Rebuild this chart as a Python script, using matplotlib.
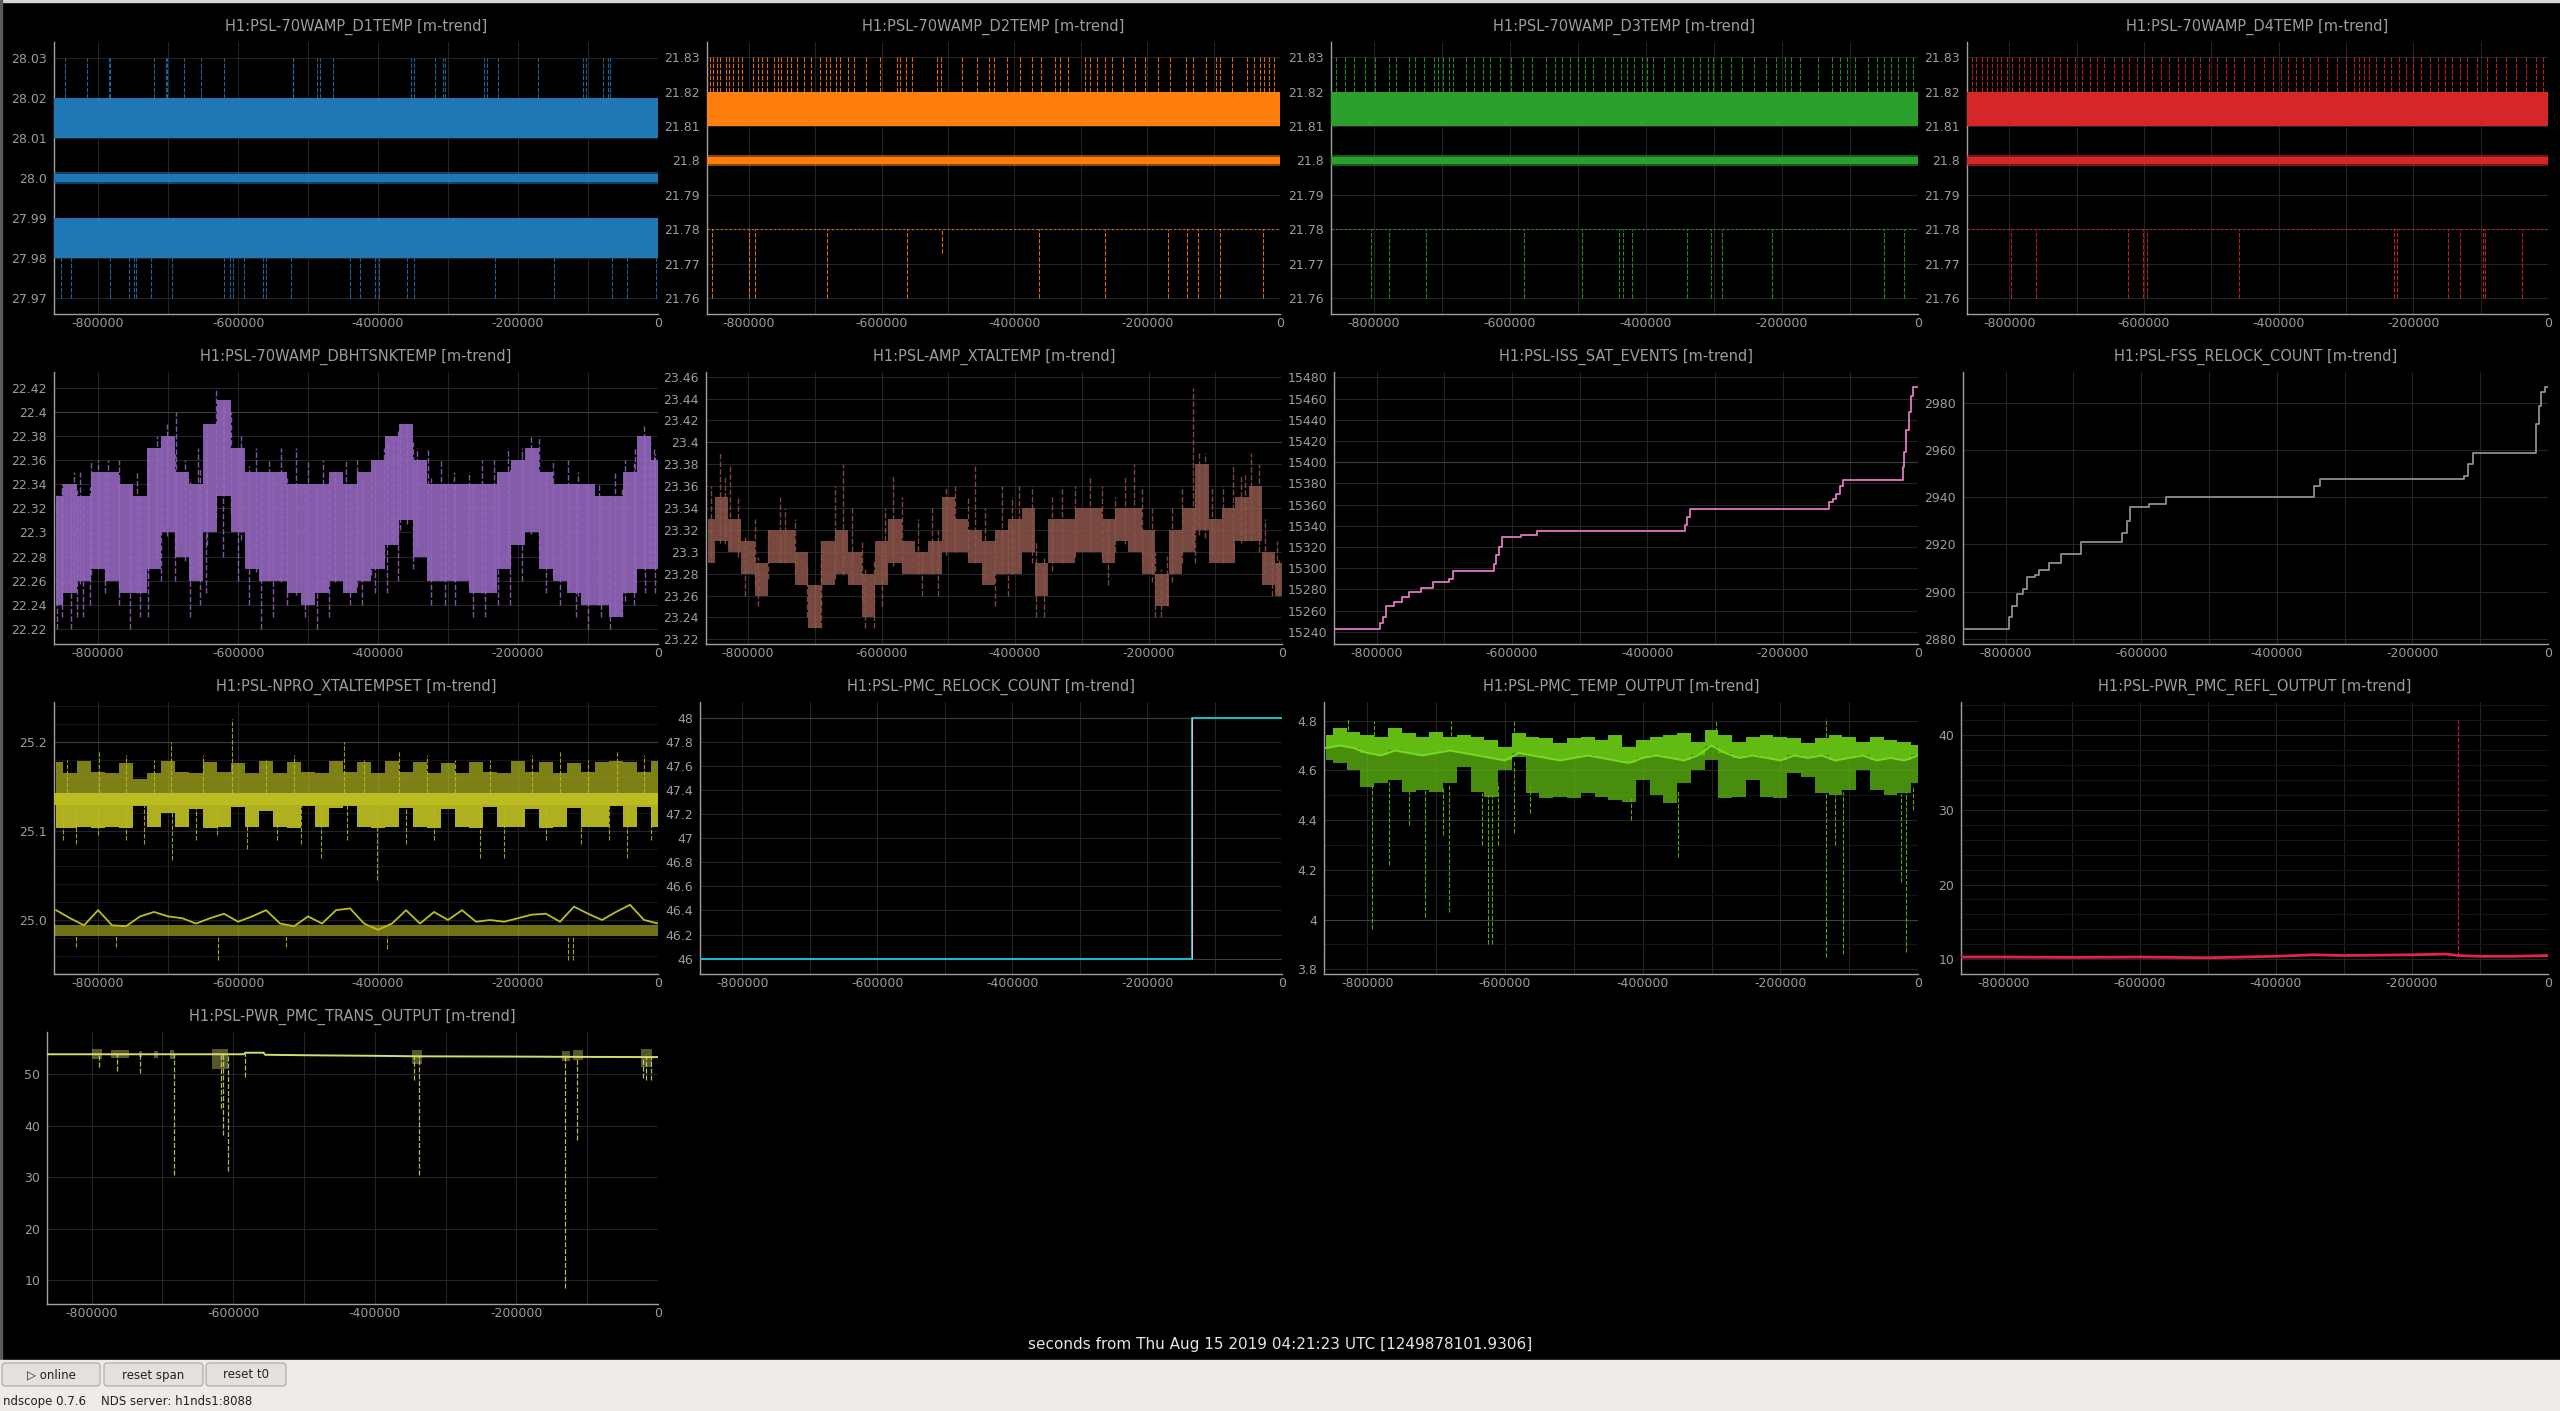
#!/usr/bin/env python3
"""
ndscope-style m-trend overview of 13 PSL channels (about 10 days of minute trends).
"""

import numpy as np
import matplotlib
matplotlib.use("Agg")
import matplotlib.pyplot as plt
from matplotlib.patches import Rectangle, FancyBboxPatch

W, H = 2560, 1411
DPI = 100

BG = "#000000"
TEXT_GRAY = "#9c9c9c"
AXIS_GRAY = "#a0a0a0"
GRID = "#242424"
GRID_BRIGHT = "#3e3e3e"
GRID_MINOR = "#151515"
DASH = (0, (4.0, 1.5))

KS = 1000.0
XLIM = (-863000, 0)
T_SPAN = [-863000, 0]
XTICKS = [-800000, -600000, -400000, -200000, 0]
XTICK_LABELS = ["-800000", "-600000", "-400000", "-200000", "0"]
XMINOR = [-700000, -500000, -300000, -100000]

# sample times (ks) used when reading the envelopes off the screen
T_KS = [-860, -840, -820, -800, -780, -760, -740, -720, -700, -680,
        -660, -640, -620, -600, -580, -560, -540, -520, -500, -480,
        -460, -440, -420, -400, -380, -360, -340, -320, -300, -280,
        -260, -240, -220, -200, -180, -160, -140, -120, -100, -80,
        -60, -40, -20, 0]

# ---------------------------------------------------------------- D1..D4 TEMP
P1_MAX_BAND = (28.01, 28.02)
P1_MIN_BAND = (27.98, 27.99)
P1_MEAN_RANGE = (27.9984, 28.0016)
P1_MEAN_CORE = (27.9991, 28.0009)
P1_SPIKE_TOP = 28.03
P1_SPIKE_BOTTOM = 27.97
P1_UP_KS = [-847, -816, -785, -783, -720, -703, -701, -677, -653, -620, -522, -521,
            -487, -483, -465, -353, -349, -319, -307, -305, -249, -245, -228, -172,
            -107, -103, -78, -71, -68]
P1_DOWN_KS = [-853, -839, -783, -756, -748, -746, -725, -695, -620, -611, -607, -591,
              -565, -560, -525, -440, -426, -405, -398, -358, -348, -233, -149, -66,
              -44, -3]

D_MAX_BAND = (21.81, 21.82)
D_MIN_LEVEL = 21.78
D_MEAN_RANGE = (21.7984, 21.8016)
D_MEAN_CORE = (21.7990, 21.8009)
D_SPIKE_TOP = 21.83
D_SPIKE_BOTTOM = 21.76

P2_UP_KS = [-858, -854, -848, -843, -835, -830, -824, -817, -810, -793, -786, -780,
            -773, -762, -756, -751, -743, -736, -728, -717, -706, -693, -684, -677,
            -669, -662, -651, -642, -623, -603, -577, -572, -564, -555, -516, -511,
            -479, -456, -439, -430, -411, -391, -373, -360, -339, -332, -319, -293,
            -286, -275, -264, -253, -236, -218, -203, -184, -166, -142, -131, -111,
            -96, -90, -72, -50, -39, -30, -24, -17, -9]
P2_DOWN_KS = [-856, -799, -791, -682, -562, -363, -264, -168, -140, -124, -90, -26]
P2_SHORT_KS = [-509]
P2_SHORT_BOTTOM = 21.773

P3_UP_KS = [-856, -843, -829, -813, -798, -777, -768, -748, -739, -726, -712, -705,
            -698, -690, -683, -665, -653, -640, -629, -615, -599, -581, -568, -547,
            -534, -523, -512, -500, -489, -478, -460, -448, -437, -428, -417, -406,
            -399, -390, -374, -358, -345, -331, -320, -309, -302, -289, -275, -259,
            -241, -223, -209, -196, -187, -173, -147, -126, -115, -104, -92, -74,
            -61, -50, -40, -29, -18, -7]
P3_DOWN_KS = [-804, -778, -724, -579, -494, -440, -433, -420, -340, -304, -288, -214,
              -50, -20]

P4_UP_KS = [-856, -849, -841, -834, -826, -819, -812, -803, -796, -786, -779, -770,
            -761, -752, -743, -734, -725, -714, -703, -692, -681, -670, -659, -645,
            -633, -622, -611, -600, -588, -575, -563, -550, -539, -528, -517, -504,
            -492, -479, -466, -452, -437, -422, -408, -397, -386, -375, -364, -353,
            -342, -328, -313, -300, -288, -280, -273, -266, -255, -244, -233, -222,
            -211, -200, -188, -175, -164, -153, -142, -131, -120, -106, -91, -77,
            -62, -47, -33, -18, -7]
P4_DOWN_KS = [-797, -761, -624, -601, -595, -459, -229, -224, -149, -131, -97, -93, -38]

# ---------------------------------------------------------------- DBHTSNKTEMP
P5_MAX = [22.33, 22.34, 22.33, 22.35, 22.35, 22.34, 22.33, 22.37, 22.38, 22.35,
          22.34, 22.39, 22.41, 22.37, 22.35, 22.35, 22.35, 22.34, 22.34, 22.34,
          22.35, 22.34, 22.35, 22.36, 22.38, 22.39, 22.36, 22.34, 22.34, 22.34,
          22.34, 22.34, 22.35, 22.36, 22.37, 22.35, 22.34, 22.34, 22.34, 22.33,
          22.33, 22.35, 22.38, 22.36]
P5_MIN = [22.24, 22.25, 22.26, 22.27, 22.26, 22.25, 22.25, 22.27, 22.30, 22.28,
          22.26, 22.30, 22.33, 22.30, 22.27, 22.26, 22.26, 22.25, 22.24, 22.25,
          22.26, 22.25, 22.26, 22.27, 22.29, 22.31, 22.28, 22.26, 22.26, 22.26,
          22.25, 22.25, 22.27, 22.29, 22.30, 22.27, 22.26, 22.25, 22.24, 22.24,
          22.23, 22.25, 22.27, 22.27]
P5_UP_KS = [-834, -810, -716, -689, -657, -632, -610, -575, -517, -479, -446, -378,
            -358, -329, -291, -235, -194, -170, -129, -103, -47, -20, -6,
            -852, -826, -800, -786, -770, -745, -728, -702, -676, -645, -620, -596,
            -556, -538, -500, -462, -430, -410, -392, -368, -345, -310, -270, -252,
            -215, -182, -150, -115, -85, -62, -33, -12]
P5_UP_TOP = [22.35, 22.36, 22.38, 22.40, 22.37, 22.42, 22.40, 22.37, 22.37, 22.36,
             22.36, 22.38, 22.39, 22.37, 22.35, 22.36, 22.37, 22.38, 22.36, 22.34,
             22.36, 22.39, 22.37,
             22.34, 22.35, 22.36, 22.36, 22.36, 22.35, 22.37, 22.39, 22.36, 22.39,
             22.41, 22.38, 22.36, 22.37, 22.36, 22.35, 22.36, 22.35, 22.37, 22.39,
             22.37, 22.36, 22.35, 22.36, 22.37, 22.38, 22.36, 22.35, 22.34, 22.35,
             22.37, 22.38]
P5_DOWN_KS = [-851, -839, -822, -754, -728, -669, -646, -567, -487, -423, -387, -305,
              -247, -211, -117, -69, -35,
              -858, -830, -812, -790, -770, -740, -710, -690, -655, -622, -600, -585,
              -550, -530, -505, -470, -440, -405, -372, -350, -325, -290, -265, -228,
              -195, -160, -140, -100, -82, -52, -18, -5]
P5_DOWN_BOT = [22.23, 22.22, 22.23, 22.22, 22.23, 22.23, 22.25, 22.22, 22.22, 22.24,
               22.25, 22.24, 22.23, 22.24, 22.23, 22.22, 22.24,
               22.22, 22.23, 22.24, 22.25, 22.24, 22.23, 22.26, 22.26, 22.24, 22.28,
               22.26, 22.24, 22.23, 22.24, 22.23, 22.23, 22.24, 22.25, 22.26, 22.27,
               22.24, 22.24, 22.23, 22.24, 22.26, 22.25, 22.24, 22.22, 22.23, 22.23,
               22.25, 22.25]

# ---------------------------------------------------------------- AMP_XTALTEMP
P6_MIN = [23.29, 23.31, 23.30, 23.28, 23.26, 23.29, 23.29, 23.27, 23.23, 23.27,
          23.28, 23.27, 23.24, 23.27, 23.29, 23.28, 23.28, 23.28, 23.30, 23.30,
          23.29, 23.27, 23.28, 23.28, 23.30, 23.26, 23.29, 23.29, 23.30, 23.30,
          23.29, 23.31, 23.30, 23.28, 23.25, 23.28, 23.30, 23.32, 23.29, 23.29,
          23.31, 23.31, 23.27, 23.26]
P6_MAX = [23.33, 23.35, 23.33, 23.31, 23.29, 23.32, 23.32, 23.30, 23.27, 23.31,
          23.32, 23.30, 23.28, 23.31, 23.33, 23.31, 23.30, 23.31, 23.35, 23.33,
          23.32, 23.31, 23.32, 23.33, 23.34, 23.29, 23.33, 23.33, 23.34, 23.34,
          23.33, 23.34, 23.34, 23.32, 23.28, 23.32, 23.34, 23.38, 23.33, 23.34,
          23.35, 23.36, 23.30, 23.29]
P6_UP_KS = [-842, -827, -752, -657, -583, -503, -460, -394, -287, -222, -133, -125,
            -74, -47, -35,
            -855, -835, -815, -790, -770, -745, -730, -690, -670, -645, -630, -595,
            -570, -545, -525, -490, -470, -445, -420, -405, -375, -345, -330, -310,
            -270, -250, -235, -210, -195, -165, -150, -115, -105, -88, -62, -55,
            -25, -8]
P6_UP_TOP = [23.39, 23.38, 23.35, 23.38, 23.37, 23.36, 23.38, 23.36, 23.37, 23.38,
             23.45, 23.39, 23.38, 23.39, 23.38,
             23.36, 23.37, 23.35, 23.33, 23.32, 23.34, 23.33, 23.31, 23.36, 23.34,
             23.31, 23.34, 23.35, 23.33, 23.34, 23.36, 23.35, 23.34, 23.36, 23.35,
             23.36, 23.35, 23.36, 23.36, 23.36, 23.35, 23.37, 23.36, 23.34, 23.34,
             23.36, 23.39, 23.36, 23.36, 23.37, 23.37, 23.33, 23.31]
P6_DOWN_KS = [-700, -611, -357, -182,
              -805, -785, -712, -690, -625, -600, -540, -515, -430, -410, -368, -260,
              -190, -172, -130, -15, -5]
P6_DOWN_BOT = [23.23, 23.23, 23.24, 23.24,
               23.26, 23.25, 23.24, 23.23, 23.23, 23.25, 23.26, 23.26, 23.25, 23.26,
               23.24, 23.27, 23.24, 23.25, 23.29, 23.26, 23.26]

# ---------------------------------------------------------------- counters
P7_X_KS = [-863, -798, -795, -790, -786, -774, -762, -752, -735, -717,
           -693, -687, -631, -627, -623, -619, -615, -587, -563, -348,
           -345, -342, -337, -135, -131, -126, -121, -116, -111, -24,
           -22, -20, -17, -14, -11, -8, 0]
P7_Y = [15243, 15243, 15248, 15254, 15264, 15268, 15273, 15277, 15281, 15287,
        15290, 15297, 15297, 15304, 15312, 15320, 15329, 15331, 15335, 15335,
        15341, 15348, 15356, 15356, 15362, 15365, 15370, 15377, 15383, 15383,
        15395, 15410, 15430, 15447, 15462, 15471, 15471]

P8_X_KS = [-863, -799, -795, -790, -783, -775, -768, -757, -751, -736,
           -718, -689, -633, -628, -621, -616, -588, -564, -348, -345,
           -337, -131, -124, -118, -110, -22, -18, -14, -10, -5, 0]
P8_Y = [2884, 2884, 2889, 2894, 2899, 2901, 2906, 2907, 2909, 2912,
        2916, 2921, 2921, 2925, 2930, 2936, 2937, 2940, 2940, 2945,
        2948, 2948, 2949, 2954, 2959, 2959, 2971, 2979, 2985, 2987, 2987]

# ---------------------------------------------------------------- NPRO_XTALTEMPSET
P9_MAX_TOP = [25.177, 25.165, 25.178, 25.166, 25.165, 25.176, 25.158, 25.165, 25.178, 25.166,
              25.165, 25.177, 25.166, 25.176, 25.165, 25.178, 25.165, 25.177, 25.166, 25.165,
              25.178, 25.166, 25.177, 25.165, 25.178, 25.166, 25.177, 25.165, 25.176, 25.165,
              25.177, 25.166, 25.165, 25.178, 25.166, 25.177, 25.165, 25.176, 25.166, 25.177,
              25.178, 25.177, 25.166, 25.178]
P9_MAX_BOT = [25.103, 25.103, 25.104, 25.103, 25.104, 25.103, 25.128, 25.104, 25.120, 25.104,
              25.125, 25.103, 25.104, 25.127, 25.104, 25.122, 25.104, 25.103, 25.128, 25.104,
              25.126, 25.128, 25.104, 25.103, 25.104, 25.126, 25.104, 25.103, 25.125, 25.104,
              25.103, 25.127, 25.104, 25.104, 25.125, 25.103, 25.104, 25.126, 25.104, 25.104,
              25.128, 25.104, 25.127, 25.104]
P9_CORE = (25.129, 25.142)
P9_MEAN = [25.011, 25.002, 24.994, 25.011, 24.994, 24.993, 25.004, 25.009, 25.004, 25.002,
           24.996, 25.002, 25.007, 24.998, 25.004, 25.011, 24.996, 24.993, 25.004, 24.996,
           25.011, 25.013, 24.996, 24.989, 24.996, 25.011, 24.996, 25.009, 25.000, 25.011,
           24.998, 25.000, 24.998, 25.002, 25.006, 25.007, 24.998, 25.015, 25.007, 25.000,
           25.009, 25.017, 25.000, 24.996]
P9_MIN_BAND = (24.982, 24.994)
P9_UP_KS = [-798, -696, -608, -448, -370, -59, -845, -760, -720, -650, -560, -520,
            -420, -330, -290, -240, -180, -140, -100, -20]
P9_UP_TOP = [25.19, 25.20, 25.225, 25.20, 25.19, 25.19, 25.18, 25.185, 25.18, 25.185,
             25.18, 25.185, 25.18, 25.185, 25.18, 25.18, 25.185, 25.19, 25.18, 25.185]
P9_DOWN_KS = [-831, -695, -587, -481, -401, -255, -220, -45, -850, -800, -760, -735,
              -660, -630, -545, -510, -445, -360, -320, -160, -110, -70, -10]
P9_DOWN_BOT = [25.085, 25.067, 25.08, 25.07, 25.045, 25.07, 25.07, 25.07, 25.09, 25.095,
               25.09, 25.085, 25.09, 25.095, 25.09, 25.085, 25.09, 25.085, 25.09, 25.09,
               25.085, 25.09, 25.09]
P9_DIP_KS = [-831, -775, -628, -531, -387, -129, -121]
P9_DIP_BOT = [24.97, 24.97, 24.955, 24.97, 24.968, 24.955, 24.955]

P10_X_KS = [-863, -133, 0]
P10_Y = [46, 48, 48]

# ---------------------------------------------------------------- PMC_TEMP_OUTPUT
P11_TOP = [4.742, 4.769, 4.756, 4.742, 4.736, 4.769, 4.749, 4.736, 4.756, 4.736,
           4.742, 4.736, 4.722, 4.695, 4.749, 4.736, 4.729, 4.709, 4.729, 4.736,
           4.722, 4.742, 4.695, 4.722, 4.736, 4.742, 4.749, 4.716, 4.762, 4.742,
           4.716, 4.736, 4.742, 4.736, 4.729, 4.709, 4.729, 4.742, 4.736, 4.716,
           4.736, 4.722, 4.716, 4.702]
P11_BOTTOM = [4.642, 4.628, 4.602, 4.535, 4.548, 4.561, 4.514, 4.521, 4.514, 4.548,
              4.615, 4.514, 4.494, 4.602, 4.655, 4.508, 4.488, 4.494, 4.488, 4.508,
              4.494, 4.481, 4.474, 4.561, 4.501, 4.468, 4.548, 4.602, 4.642, 4.488,
              4.494, 4.561, 4.494, 4.488, 4.588, 4.575, 4.508, 4.501, 4.521, 4.602,
              4.521, 4.501, 4.508, 4.548]
P11_MEAN = [4.69, 4.70, 4.69, 4.67, 4.66, 4.68, 4.67, 4.66, 4.67, 4.68,
            4.67, 4.66, 4.65, 4.64, 4.67, 4.66, 4.65, 4.64, 4.65, 4.66,
            4.65, 4.64, 4.63, 4.65, 4.66, 4.65, 4.64, 4.66, 4.70, 4.67,
            4.65, 4.66, 4.65, 4.64, 4.66, 4.65, 4.66, 4.64, 4.65, 4.66,
            4.64, 4.65, 4.64, 4.66]
P11_DOWN_KS = [-793, -769, -740, -716, -690, -681, -634, -625, -619, -610, -587, -564,
               -417, -348, -133, -121, -109, -24, -17, -7]
P11_DOWN_BOT = [3.96, 4.22, 4.38, 4.01, 4.34, 4.03, 4.30, 3.90, 3.90, 4.30, 4.35, 4.43,
                4.40, 4.25, 3.85, 4.30, 3.86, 4.15, 3.87, 4.44]
P11_UP_KS = [-828, -790, -678, -587, -293, -133]
P11_UP_TOP = [4.81, 4.80, 4.80, 4.80, 4.80, 4.81]

# ---------------------------------------------------------------- PMC REFL / TRANS
P12_X_KS = [-863, -800, -700, -600, -500, -400, -345, -300, -200, -150, -132, -100, -50, 0]
P12_Y = [10.3, 10.3, 10.25, 10.3, 10.2, 10.4, 10.6, 10.5, 10.6, 10.7, 10.5, 10.4, 10.4, 10.5]
P12_SPIKE_KS = [-132]
P12_SPIKE_TOP = [42.2]

P13_X_KS = [-863, -585, -583, -557, -555, -490, -400, -340, -200, -130, 0]
P13_Y = [53.9, 53.9, 54.2, 54.2, 53.8, 53.7, 53.6, 53.5, 53.45, 53.4, 53.35]
P13_CLUSTER_START_KS = [-800, -772, -733, -712, -689, -630, -347, -135, -120, -24]
P13_CLUSTER_END_KS = [-785, -747, -729, -706, -683, -608, -334, -125, -106, -9]
P13_CLUSTER_LO = [53.0, 53.2, 53.3, 53.2, 53.0, 51.0, 52.0, 52.5, 52.8, 51.5]
P13_CLUSTER_HI = [54.9, 54.8, 54.5, 54.6, 54.8, 54.9, 54.7, 54.6, 54.8, 54.9]
P13_DIP_KS = [-790, -764, -731, -684, -617, -614, -608, -583, -344, -338, -132, -114,
              -21, -17, -10]
P13_DIP_BOT = [51.4, 50.6, 50.2, 30.4, 43.4, 38.2, 31.1, 49.5, 48.9, 30.4, 8.4, 37.2,
               49.2, 48.9, 48.9]


def ks(values):
    return np.asarray(values, dtype=float) * KS


def ticks(start, stop, step, fmt):
    vals = [round(start + i * step, 6) for i in range(int(round((stop - start) / step)) + 1)]
    return vals, [fmt(v) for v in vals]


def g(v):
    s = f"{v:.2f}".rstrip("0")
    if s.endswith("."):
        s += "0"
    return s


def gi(v):
    s = f"{v:.1f}"
    return s[:-2] if s.endswith(".0") else s


def px_axes(fig, x0, x1, y0, y1):
    return fig.add_axes([x0 / W, 1 - y1 / H, (x1 - x0) / W, (y1 - y0) / H])


def style_axes(ax, title, ylim, yvals, ylabels, bright=(), minor=()):
    ax.set_facecolor(BG)
    ax.set_xlim(*XLIM)
    ax.set_ylim(*ylim)
    for side in ("top", "right"):
        ax.spines[side].set_visible(False)
    for side in ("left", "bottom"):
        ax.spines[side].set_color(AXIS_GRAY)
        ax.spines[side].set_linewidth(1.0)
    ax.set_xticks(XTICKS, XTICK_LABELS)
    ax.set_yticks(yvals, ylabels)
    ax.tick_params(length=0, colors=TEXT_GRAY, labelsize=9)
    ax.tick_params(axis="y", pad=5)
    ax.tick_params(axis="x", pad=2)
    for x in XTICKS + XMINOR:
        ax.axvline(x, color=GRID, lw=0.8, zorder=0)
    for y in minor:
        ax.axhline(y, color=GRID_MINOR, lw=0.8, zorder=0)
    for y in yvals:
        ax.axhline(y, color=GRID_BRIGHT if y in bright else GRID, lw=0.8, zorder=0)
    ax.annotate(title, xy=(0.5, 1.0), xycoords="axes fraction", xytext=(0, 11),
                textcoords="offset points", ha="center", va="center",
                color=TEXT_GRAY, fontsize=10.5)


def spikes(ax, x_ks, lo, hi, color, lw=0.8, alpha=0.85):
    ax.vlines(ks(x_ks), lo, hi, colors=color, linestyles=DASH, lw=lw, alpha=alpha, zorder=2)


def draw_quantized(ax, color, max_band, mean_range, mean_core, up_ks, up_top,
                   down_ks, down_bottom, min_band=None, min_level=None):
    ax.fill_between(T_SPAN, *max_band, color=color, lw=0, zorder=3)
    if min_band is not None:
        ax.fill_between(T_SPAN, *min_band, color=color, lw=0, zorder=3)
        base = min_band[0]
    else:
        ax.hlines(min_level, *T_SPAN, colors=color, linestyles=(0, (2, 2)), lw=0.8, alpha=0.8)
        base = min_level
    ax.fill_between(T_SPAN, *mean_range, color=color, lw=0, alpha=0.55, zorder=3)
    ax.fill_between(T_SPAN, *mean_core, color=color, lw=0, zorder=3)
    spikes(ax, up_ks, max_band[1], up_top, color)
    spikes(ax, down_ks, down_bottom, base, color)


def main():
    plt.rcParams["font.family"] = ["DejaVu Sans"]
    fig = plt.figure(figsize=(W / DPI, H / DPI), dpi=DPI, facecolor=BG)

    # window chrome, drawn in pixel coordinates
    ov = fig.add_axes([0, 0, 1, 1])
    ov.set_xlim(0, W)
    ov.set_ylim(H, 0)
    ov.axis("off")
    ov.add_patch(Rectangle((0, 0), W, 2, color="#d6d6d6"))
    ov.add_patch(Rectangle((0, 0), 1.5, 1360, color="#5a5a5a"))
    ov.add_patch(Rectangle((0, 1360), W, 51, color="#efece8"))
    for x0, x1, label in [(2, 100, "\u25b7 online"), (104, 203, "reset span"), (206, 286, "reset t0")]:
        ov.add_patch(FancyBboxPatch((x0, 1363), x1 - x0, 23,
                                    boxstyle="round,pad=0,rounding_size=3",
                                    fc="#e4e1dd", ec="#a9a7a4", lw=0.8))
        ov.text((x0 + x1) / 2, 1375, label, ha="center", va="center",
                fontsize=8.5, color="#202020")
    ov.text(3, 1401, "ndscope 0.7.6    NDS server: h1nds1:8088", ha="left", va="center",
            fontsize=8.5, color="#202020")
    ov.text(1280, 1345, "seconds from Thu Aug 15 2019 04:21:23 UTC [1249878101.9306]",
            ha="center", va="center", fontsize=11, color="#e4e4e4")

    t = ks(T_KS)

    # row 1 -----------------------------------------------------------
    ax = px_axes(fig, 54, 658, 42, 314)
    yv, yl = ticks(27.97, 28.03, 0.01, g)
    style_axes(ax, "H1:PSL-70WAMP_D1TEMP [m-trend]", (27.966, 28.034), yv, yl)
    draw_quantized(ax, "#1f77b4", P1_MAX_BAND, P1_MEAN_RANGE, P1_MEAN_CORE,
                   P1_UP_KS, P1_SPIKE_TOP, P1_DOWN_KS, P1_SPIKE_BOTTOM, min_band=P1_MIN_BAND)

    yv, yl = ticks(21.76, 21.83, 0.01, g)
    for (x0, x1), name, color, up, down in [
            ((707, 1280), "D2TEMP", "#ff7f0e", P2_UP_KS, P2_DOWN_KS),
            ((1331, 1918), "D3TEMP", "#2ca02c", P3_UP_KS, P3_DOWN_KS),
            ((1967, 2548), "D4TEMP", "#d62728", P4_UP_KS, P4_DOWN_KS)]:
        ax = px_axes(fig, x0, x1, 42, 314)
        style_axes(ax, f"H1:PSL-70WAMP_{name} [m-trend]", (21.7554, 21.8344), yv, yl)
        draw_quantized(ax, color, D_MAX_BAND, D_MEAN_RANGE, D_MEAN_CORE,
                       up, D_SPIKE_TOP, down, D_SPIKE_BOTTOM, min_level=D_MIN_LEVEL)
        if name == "D2TEMP":
            spikes(ax, P2_SHORT_KS, P2_SHORT_BOTTOM, D_MIN_LEVEL, color)

    # row 2 -----------------------------------------------------------
    c = "#9467bd"
    ax = px_axes(fig, 54, 658, 372, 644)
    yv, yl = ticks(22.22, 22.42, 0.02, g)
    style_axes(ax, "H1:PSL-70WAMP_DBHTSNKTEMP [m-trend]", (22.2076, 22.433), yv, yl,
               bright=(22.4,))
    spikes(ax, P5_UP_KS, np.interp(ks(P5_UP_KS), t, P5_MIN), P5_UP_TOP, c, lw=1.0)
    spikes(ax, P5_DOWN_KS, P5_DOWN_BOT, np.interp(ks(P5_DOWN_KS), t, P5_MAX), c, lw=1.0)
    ax.fill_between(t, P5_MIN, P5_MAX, step="mid", color=c, lw=0, alpha=0.9, zorder=3)

    c = "#8c564b"
    ax = px_axes(fig, 706, 1282, 372, 644)
    yv, yl = ticks(23.22, 23.46, 0.02, g)
    style_axes(ax, "H1:PSL-AMP_XTALTEMP [m-trend]", (23.2157, 23.4643), yv, yl,
               bright=(23.4,))
    spikes(ax, P6_UP_KS, np.interp(ks(P6_UP_KS), t, P6_MIN), P6_UP_TOP, c, lw=1.0)
    spikes(ax, P6_DOWN_KS, P6_DOWN_BOT, np.interp(ks(P6_DOWN_KS), t, P6_MAX), c, lw=1.0)
    ax.fill_between(t, P6_MIN, P6_MAX, step="mid", color=c, lw=0, alpha=0.85, zorder=3)

    ax = px_axes(fig, 1334, 1918, 372, 644)
    yv, yl = ticks(15240, 15480, 20, gi)
    style_axes(ax, "H1:PSL-ISS_SAT_EVENTS [m-trend]", (15228.4, 15485.0), yv, yl,
               bright=(15400,))
    ax.plot(ks(P7_X_KS), P7_Y, drawstyle="steps-post", color="#e377c2", lw=1.3, zorder=3)

    ax = px_axes(fig, 1963, 2548, 372, 644)
    yv, yl = ticks(2880, 2980, 20, gi)
    style_axes(ax, "H1:PSL-FSS_RELOCK_COUNT [m-trend]", (2877.7, 2993.3), yv, yl)
    ax.plot(ks(P8_X_KS), P8_Y, drawstyle="steps-post", color="#8e8e8e", lw=1.3, zorder=3)

    # row 3 -----------------------------------------------------------
    c = "#bcbd22"
    ax = px_axes(fig, 54, 658, 702, 974)
    minor9 = [round(24.94 + 0.02 * i, 2) for i in range(16)]
    style_axes(ax, "H1:PSL-NPRO_XTALTEMPSET [m-trend]", (24.9394, 25.2445),
               [25.0, 25.1, 25.2], ["25.0", "25.1", "25.2"], bright=(25.2,), minor=minor9)
    spikes(ax, P9_UP_KS, P9_CORE[1], P9_UP_TOP, c)
    spikes(ax, P9_DOWN_KS, P9_DOWN_BOT, P9_CORE[0], c)
    spikes(ax, P9_DIP_KS, P9_DIP_BOT, P9_MIN_BAND[0], c)
    ax.fill_between(t, P9_MAX_BOT, P9_MAX_TOP, step="mid", color=c, lw=0, alpha=0.68, zorder=3)
    ax.fill_between(t, P9_MAX_BOT, P9_CORE[1], step="mid", color=c, lw=0, alpha=0.8, zorder=3)
    ax.fill_between(T_SPAN, *P9_CORE, color=c, lw=0, alpha=0.95, zorder=3)
    ax.fill_between(T_SPAN, *P9_MIN_BAND, color=c, lw=0, alpha=0.6, zorder=3)
    ax.plot(t, P9_MEAN, color=c, lw=1.3, zorder=4)

    ax = px_axes(fig, 700, 1282, 702, 974)
    yv, yl = ticks(46.0, 48.0, 0.2, gi)
    style_axes(ax, "H1:PSL-PMC_RELOCK_COUNT [m-trend]", (45.873, 48.13), yv, yl,
               bright=(46.0, 48.0))
    ax.plot(ks(P10_X_KS), P10_Y, drawstyle="steps-post", color="#17becf", lw=1.4, zorder=3)
    ax.vlines(ks(P10_X_KS[1]), P10_Y[0], P10_Y[1], colors="#c8c8c8", lw=0.8, zorder=4)

    c = "#66c414"
    ax = px_axes(fig, 1324, 1918, 702, 974)
    yv, yl = ticks(3.8, 4.8, 0.2, gi)
    style_axes(ax, "H1:PSL-PMC_TEMP_OUTPUT [m-trend]", (3.781, 4.875), yv, yl,
               bright=(4.0,), minor=[3.9, 4.1, 4.3, 4.5, 4.7])
    spikes(ax, P11_DOWN_KS, P11_DOWN_BOT, np.interp(ks(P11_DOWN_KS), t, P11_BOTTOM), c)
    spikes(ax, P11_UP_KS, np.interp(ks(P11_UP_KS), t, P11_TOP), P11_UP_TOP, c)
    ax.fill_between(t, P11_BOTTOM, P11_TOP, step="mid", color=c, lw=0, alpha=0.72, zorder=3)
    ax.fill_between(t, P11_MEAN, P11_TOP, step="mid", color=c, lw=0, alpha=0.85, zorder=3)
    ax.plot(t, P11_MEAN, color="#78dc1e", lw=1.4, zorder=4)

    c = "#e8214c"
    ax = px_axes(fig, 1961, 2548, 702, 974)
    minor12 = [v for v in range(8, 45, 2) if v % 10]
    style_axes(ax, "H1:PSL-PWR_PMC_REFL_OUTPUT [m-trend]", (8.03, 44.41),
               [10, 20, 30, 40], ["10", "20", "30", "40"], minor=minor12)
    spikes(ax, P12_SPIKE_KS, np.interp(ks(P12_SPIKE_KS), ks(P12_X_KS), P12_Y), P12_SPIKE_TOP, c)
    ax.plot(ks(P12_X_KS), P12_Y, color=c, lw=2.0, zorder=3)

    # row 4 -----------------------------------------------------------
    c = "#d8dc6c"
    ax = px_axes(fig, 47, 658, 1032, 1304)
    style_axes(ax, "H1:PSL-PWR_PMC_TRANS_OUTPUT [m-trend]", (5.33, 58.23),
               [10, 20, 30, 40, 50], ["10", "20", "30", "40", "50"])
    x13 = ks(P13_X_KS)
    spikes(ax, P13_DIP_KS, P13_DIP_BOT, np.interp(ks(P13_DIP_KS), x13, P13_Y), c, lw=0.9)
    for a, b, lo, hi in zip(P13_CLUSTER_START_KS, P13_CLUSTER_END_KS,
                            P13_CLUSTER_LO, P13_CLUSTER_HI):
        ax.fill_between(ks([a, b]), lo, hi, color=c, lw=0, alpha=0.4, zorder=3)
    ax.plot(x13, P13_Y, color=c, lw=1.4, zorder=4)

    fig.savefig("out.png", dpi=DPI, facecolor=BG)


if __name__ == "__main__":
    main()
